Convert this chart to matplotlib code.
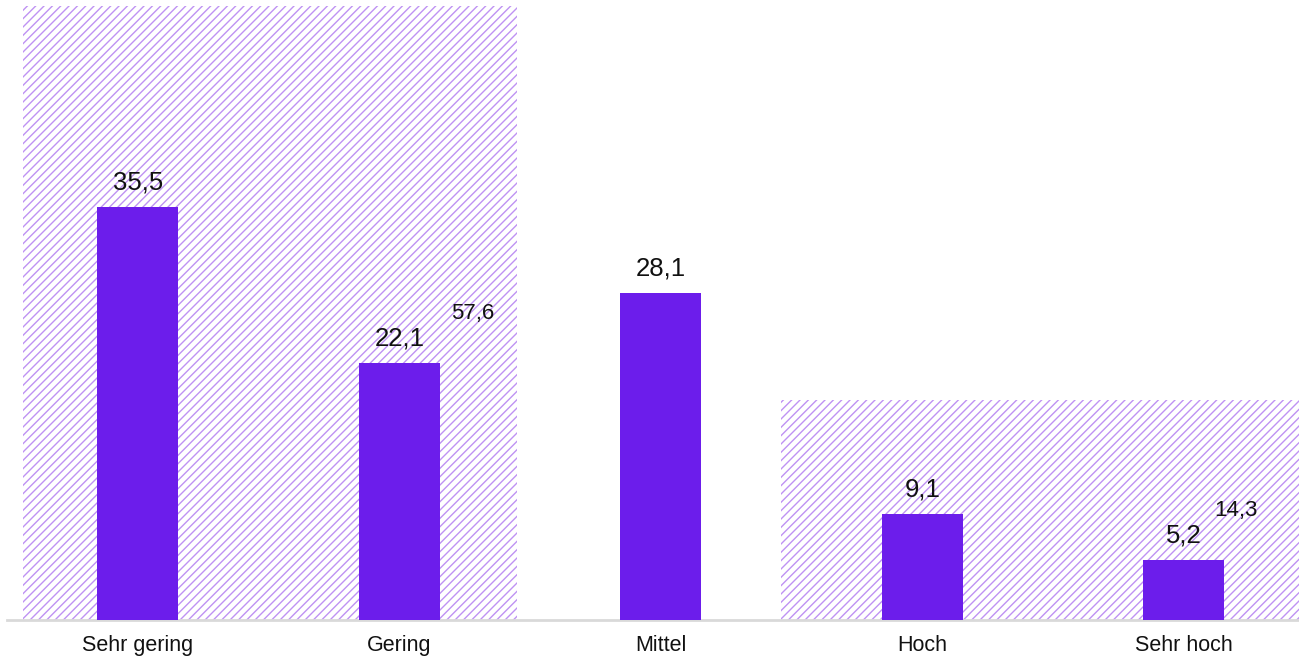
import numpy as np
import matplotlib.pyplot as plt

plt.rcParams['font.family'] = ['Liberation Sans', 'DejaVu Sans']
plt.rcParams['hatch.linewidth'] = 1.0

categories = ["Sehr gering", "Gering", "Mittel", "Hoch", "Sehr hoch"]
values = [35.5, 22.1, 28.1, 9.1, 5.2]
group_totals = [57.6, 14.3]

# layout of the hatched group boxes (category units)
group_left = [-0.44, 2.46]
group_right = [1.45, 4.7]
group_label_x = [1.28, 4.2]

bar_color = "#6c1deb"
hatch_color = "#bf92f3"

fig = plt.figure(figsize=(12.99, 6.58), dpi=100)
ax_bg = fig.add_axes([7 / 1299, 38 / 658, 1 - 7 / 1299, (620 - 6) / 658])

x = np.arange(len(categories))
bg_max = 40
for i in range(len(group_totals)):
    ax_bg.bar(group_left[i], group_totals[i], width=group_right[i] - group_left[i],
              align="edge", facecolor="white", edgecolor=hatch_color,
              linewidth=0, hatch="////")
    ax_bg.text(group_label_x[i], min(group_totals[i], bg_max) / 2,
               f"{group_totals[i]:.1f}".replace(".", ","),
               ha="center", va="center", fontsize=16, color="#111111")
ax_bg.set_ylim(0, bg_max)
ax_bg.set_xlim(-0.5, 4.44)

ax = ax_bg.twinx()
ax.bar(x, values, width=0.31, color=bar_color, zorder=3)
for xi, v in zip(x, values):
    ax.annotate(f"{v:.1f}".replace(".", ","), (xi, v), xytext=(0, 12.5),
                textcoords="offset points", ha="center", va="baseline",
                fontsize=18.5, color="#111111")
ax.set_ylim(0, 52.8)
ax.set_xlim(-0.5, 4.44)

for a in (ax_bg, ax):
    for s in ["top", "left", "right"]:
        a.spines[s].set_visible(False)
    a.set_yticks([])
ax.spines["bottom"].set_visible(False)
ax_bg.spines["bottom"].set_color("#d9d9d9")
ax_bg.spines["bottom"].set_linewidth(2)
ax_bg.set_xticks(x)
ax_bg.set_xticklabels(categories, fontsize=15.5, color="#111111")
ax_bg.tick_params(axis="x", length=0, pad=10.5)
ax.tick_params(axis="x", length=0, labelbottom=False)

fig.savefig("out.png", dpi=100)
